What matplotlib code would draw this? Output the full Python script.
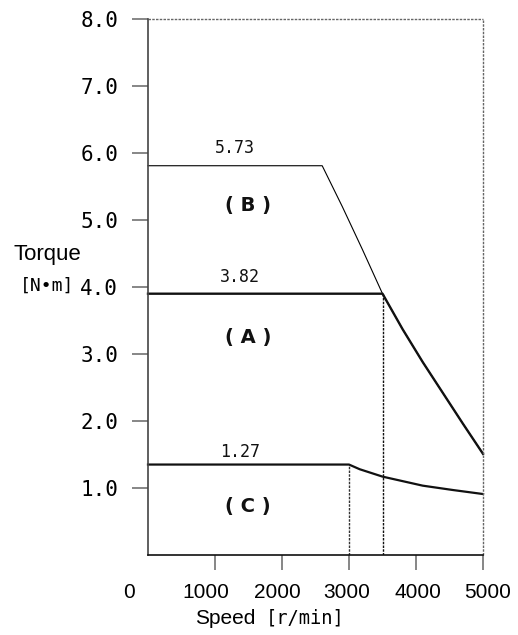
import matplotlib
matplotlib.use("Agg")
import matplotlib.pyplot as plt
import matplotlib.transforms as mtransforms

# ---- data ----
speed_B = [0, 2600, 2900, 3200, 3500, 3800, 4100, 4400, 4700, 5000]
torque_B = [5.81, 5.81, 5.20, 4.56, 3.90, 3.37, 2.88, 2.42, 1.96, 1.51]
speed_A = [0, 3500, 3800, 4100, 4400, 4700, 5000]
torque_A = [3.90, 3.90, 3.37, 2.88, 2.42, 1.96, 1.51]
speed_C = [0, 3000, 3160, 3500, 4100, 4550, 5000]
torque_C = [1.35, 1.35, 1.28, 1.17, 1.035, 0.97, 0.91]

rated_labels = ["5.73", "3.82", "1.27"]
rated_label_pos = [(1300, 6.07), (1373, 4.15), (1373, 1.54)]
curve_names = ["( B )", "( A )", "( C )"]
curve_name_pos = [(1493, 5.21), (1493, 3.24), (1493, 0.73)]

x_ticks = [1000, 2000, 3000, 4000, 5000]
x_tick_labels = ["1000", "2000", "3000", "4000", "5000"]
x_label_shift_px = [-9, -5, -2, 2, 5]
y_ticks = [1, 2, 3, 4, 5, 6, 7, 8]
y_tick_labels = ["1.0", "2.0", "3.0", "4.0", "5.0", "6.0", "7.0", "8.0"]

W, H = 518, 635
fig = plt.figure(figsize=(W / 100, H / 100), dpi=100)
ax = fig.add_axes([148 / W, 80 / H, 335 / W, 536 / H])
ax.set_xlim(0, 5000)
ax.set_ylim(0, 8)

sans = "Liberation Sans"
mono = "DejaVu Sans Mono"

# curves
ax.plot(speed_B, torque_B, color="black", lw=0.8, clip_on=False)
ax.plot(speed_A, torque_A, color="#111111", lw=1.7, clip_on=False)
ax.plot(speed_C, torque_C, color="#111111", lw=1.6, clip_on=False)

# dotted guide lines
dot = (0, (1.8, 0.9))
ax.plot([speed_C[1], speed_C[1]], [0, torque_C[1]], color="#333333", lw=1.0, ls=dot)
ax.plot([speed_A[1], speed_A[1]], [0, torque_A[1]], color="#111111", lw=1.0, ls=dot)
ax.plot([5000, 5000], [0, 8], color="#666666", lw=1.0, ls=dot, clip_on=False)
ax.plot([0, 5000], [8, 8], color="#666666", lw=1.0, ls=dot, clip_on=False)

# annotations
for txt, (x, y) in zip(rated_labels, rated_label_pos):
    ax.text(x, y, txt, ha="center", va="center", fontsize=12, family=mono, color="#111111")
for txt, (x, y) in zip(curve_names, curve_name_pos):
    ax.text(x, y, txt, ha="center", va="center", fontsize=14, family="DejaVu Sans",
            fontweight="bold", color="#111111")

# spines
for s in ["top", "right"]:
    ax.spines[s].set_visible(False)
ax.spines["left"].set_color("#444444")
ax.spines["left"].set_linewidth(1.2)
ax.spines["bottom"].set_color("#111111")
ax.spines["bottom"].set_linewidth(1.2)

# ticks
ax.set_xticks(x_ticks)
ax.set_xticklabels(x_tick_labels, family=sans, fontsize=15)
ax.set_yticks(y_ticks)
ax.set_yticklabels(y_tick_labels, family=mono, fontsize=15)
ax.tick_params(axis="x", direction="out", length=11, width=1.1, color="#666666", pad=9)
ax.tick_params(axis="y", direction="out", length=11.5, width=1.1, color="#666666", pad=10)

for lbl, dx in zip(ax.get_xticklabels(), x_label_shift_px):
    lbl.set_transform(lbl.get_transform() + mtransforms.ScaledTranslation(dx / 100, 0, fig.dpi_scale_trans))

# "0" label left of the axis origin
fig.text(129.3 / W, 1 - 592 / H, "0", ha="center", va="center", family=sans, fontsize=15)

# axis titles
fig.text(13 / W, 1 - 255 / H, "Torque", ha="left", va="center", family=sans, fontsize=16)
fig.text(20 / W, 1 - 286 / H, "[N•m]", ha="left", va="center", family=mono, fontsize=13)
fig.text(195 / W, 1 - 618 / H, "Speed", ha="left", va="center", family=sans, fontsize=15)
fig.text(266 / W, 1 - 618 / H, "[r/min]", ha="left", va="center", family=mono, fontsize=13.5)

fig.savefig("out.png", dpi=100)
